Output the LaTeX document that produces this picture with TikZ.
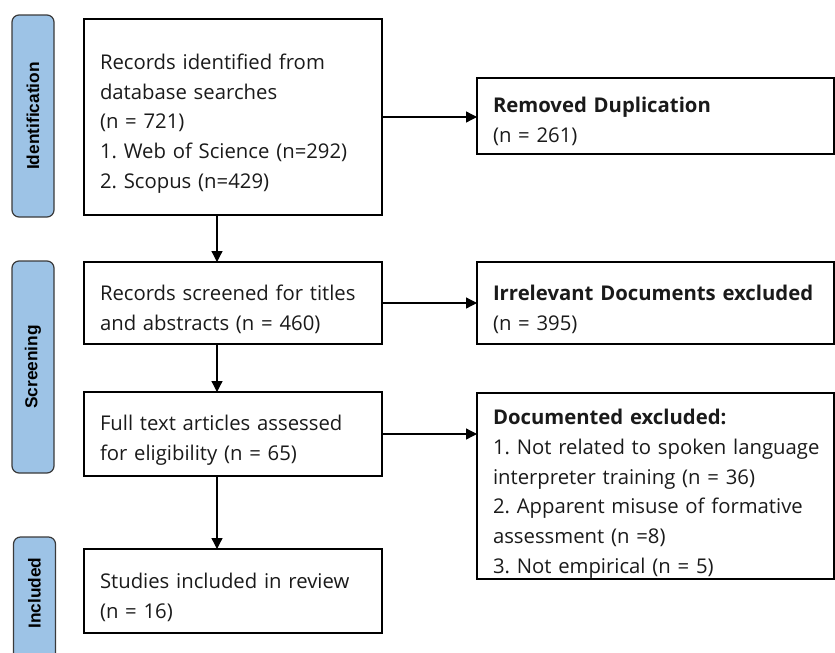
\documentclass[tikz,border=0pt]{standalone}
\usepackage{fontspec}
\setmainfont{Open Sans}
\newfontfamily\sidefont{Liberation Sans}
\usetikzlibrary{arrows.meta}
\definecolor{barblue}{HTML}{9DC3E6}
\definecolor{bardraw}{HTML}{3A3A3A}
\definecolor{txt}{HTML}{1A1A1A}
\hbadness=10000 \hfuzz=200pt
\tikzset{
  box/.style={draw, line width=1.3pt, rectangle, anchor=north west, inner xsep=16pt, inner ysep=0pt,
    align=left, outer sep=0pt, text=txt, font=\frenchspacing\fontsize{20.3}{29.7}\selectfont,
    execute at begin node={\par\vspace*{#1}\noindent}},
  box/.default=-2pt,
  sidebar/.style={draw=bardraw, fill=barblue, line width=1.2pt, rounded corners=7pt, rotate=90,
    minimum height=42pt, inner sep=0pt, font=\sidefont\bfseries\fontsize{17.3}{20}\selectfont},
  arr/.style={line width=1.3pt, -{Triangle[width=11pt,length=11pt]}}
}
\begin{document}
\begin{tikzpicture}[x=1pt,y=-1pt]
\useasboundingbox (0,0) rectangle (835,653);
% side bars
\node[sidebar, minimum width=202pt] (sid) at (33,116) {Identification};
\node[sidebar, minimum width=212pt] (sscr) at (33,367) {Screening};
\node[sidebar, minimum width=128pt] (sinc) at (34.5,601) {};
\node[rotate=90, inner sep=0pt, font=\sidefont\bfseries\fontsize{17.3}{20}\selectfont] (sinclbl) at (34.5,593) {Included};
% left boxes
\node[box=-1pt, minimum width=298pt, minimum height=196pt, text width=266pt] (b1) at (84,19)
 {Records identified from\\database searches\\(n = 721)\\1. Web of Science (n=292)\\2. Scopus (n=429)};
\node[box, minimum width=298pt, minimum height=82pt, text width=266pt] (b2) at (84,262)
 {Records screened for titles\\and abstracts (n = 460)};
\node[box, minimum width=298pt, minimum height=84pt, text width=266pt] (b3) at (84,392)
 {Full text articles assessed\\for eligibility (n = 65)};
\node[box, minimum width=298pt, minimum height=84pt, text width=266pt] (b4) at (84,549)
 {Studies included in review\\(n = 16)};
% right boxes
\node[box=-3pt, minimum width=357pt, minimum height=76pt, text width=325pt] (r1) at (477,78)
 {\textbf{Removed Duplication}\\(n = 261)};
\node[box, minimum width=357pt, minimum height=82pt, text width=325pt] (r2) at (477,262)
 {\textbf{Irrelevant Documents excluded}\\(n = 395)};
\node[box=1pt, minimum width=357pt, minimum height=186pt, text width=325pt] (r3) at (477,393)
 {\textbf{Documented excluded:}\\\mbox{1. Not related to spoken language}\\interpreter training (n = 36)\\2. Apparent misuse of formative\\assessment (n =8)\\3. Not empirical (n = 5)};
% arrows
\draw[arr] ([xshift=-16pt]b1.south) -- ([xshift=-16pt]b2.north);
\draw[arr] ([xshift=-16pt]b2.south) -- ([xshift=-16pt]b3.north);
\draw[arr] ([xshift=-16pt]b3.south) -- ([xshift=-16pt]b4.north);
\draw[arr] (b1.east) -- (b1.east -| r1.west);
\draw[arr] (b2.east) -- (b2.east -| r2.west);
\draw[arr] (b3.east) -- (b3.east -| r3.west);
\end{tikzpicture}
\end{document}
